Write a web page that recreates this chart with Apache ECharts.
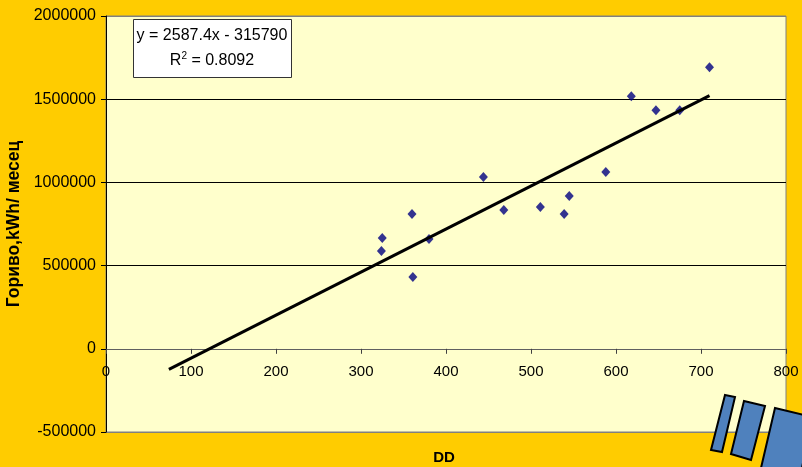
<!DOCTYPE html>
<html>
<head>
<meta charset="utf-8">
<script src="https://cdn.jsdelivr.net/npm/echarts@6/dist/echarts.min.js"></script>
<style>
html,body{margin:0;padding:0;background:#FFCC00;}
#chart{width:802px;height:467px;}
</style>
</head>
<body>
<div id="chart"></div>
<script>
// Data
const ddValues = [325, 324, 360, 361, 380, 444, 468, 511, 539, 545, 588, 618, 647, 675, 710];
const fuelValues = [666000, 588000, 810000, 432000, 660000, 1032000, 834000, 852000, 810000, 918000, 1062000, 1518000, 1434000, 1434000, 1692000];
const trendX = [74, 710];
const trendY = [-124000, 1521000];
const equationText = 'y = 2587.4x - 315790';
const r2Text = '0.8092';
const xTicks = [0, 100, 200, 300, 400, 500, 600, 700, 800];
const yTicks = [-500000, 0, 500000, 1000000, 1500000, 2000000];
const xTitle = 'DD';
const yTitle = 'Гориво,kWh/ месец';

const scatterData = ddValues.map((x, i) => [x, fuelValues[i]]);
const trendData = trendX.map((x, i) => [x, trendY[i]]);

const chart = echarts.init(document.getElementById('chart'), null, {renderer: 'canvas'});
const FONT = '"Liberation Sans", Arial, sans-serif';

const gridTop = 16, gridBottom = 35, H = 467;
const plotH = H - gridTop - gridBottom;
const yMin = yTicks[0], yMax = yTicks[yTicks.length - 1];
const zeroOffset = plotH * (0 - yMin) / (yMax - yMin);

chart.setOption({
  backgroundColor: '#FFCC00',
  animation: false,
  grid: {
    left: 106, top: gridTop, right: 16, bottom: gridBottom,
    containLabel: false, outerBoundsMode: 'none',
    show: true, backgroundColor: '#FFFFCC', borderColor: '#808080', borderWidth: 1
  },
  xAxis: {
    type: 'value',
    position: 'bottom',
    offset: -zeroOffset,
    min: xTicks[0], max: xTicks[xTicks.length - 1], interval: 100,
    axisLine: {onZero: false, lineStyle: {color: '#606060', width: 1}},
    axisTick: {show: true, length: 5, lineStyle: {color: '#404040'}},
    axisLabel: {color: '#000', fontFamily: FONT, fontSize: 15, margin: 16, formatter: v => String(v)},
    splitLine: {show: false}
  },
  yAxis: {
    type: 'value',
    min: yMin, max: yMax, interval: 500000,
    name: yTitle, nameLocation: 'middle', nameGap: 83,
    nameTextStyle: {color: '#000', fontFamily: FONT, fontSize: 17.5, fontWeight: 'bold'},
    axisLine: {show: true, onZero: false, lineStyle: {color: '#000', width: 1}},
    axisTick: {show: true, length: 5, lineStyle: {color: '#000'}},
    axisLabel: {color: '#000', fontFamily: FONT, fontSize: 16, margin: 10, formatter: v => String(v)},
    splitLine: {show: true, lineStyle: {color: ['#808080', '#808080', '#000', '#000', '#000', '#808080'], width: 1}}
  },
  series: [
    {
      type: 'scatter',
      data: scatterData,
      symbol: 'diamond',
      symbolSize: [9, 10],
      itemStyle: {color: '#000080'},
      z: 2
    },
    {
      type: 'line',
      data: trendData,
      showSymbol: false,
      symbol: 'none',
      lineStyle: {color: '#000', width: 3},
      z: 3
    }
  ],
  graphic: [
    {
      type: 'rect', left: 133, top: 19,
      shape: {width: 158, height: 58},
      style: {fill: '#fff', stroke: '#333', lineWidth: 1},
      z: 10
    },
    {
      type: 'text', x: 212, y: 36,
      style: {text: equationText, fill: '#000', font: '16px ' + FONT, align: 'center', verticalAlign: 'middle'},
      z: 11
    },
    {
      type: 'text', x: 212, y: 61,
      style: {
        text: 'R{sup|2} = ' + r2Text,
        fill: '#000', font: '16px ' + FONT, align: 'center', verticalAlign: 'middle',
        rich: {sup: {fontSize: 10, fontFamily: FONT, verticalAlign: 'top', padding: [0, 0, 10, 0], fill: '#000'}}
      },
      z: 11
    },
    {
      type: 'text', x: 444, y: 458,
      style: {text: xTitle, fill: '#000', font: 'bold 15px ' + FONT, align: 'center', verticalAlign: 'middle'},
      z: 11
    },
    {
      type: 'polygon',
      shape: {points: [[725, 395], [735, 397], [722, 452], [711, 450]]},
      style: {fill: '#4F81BD', stroke: '#000', lineWidth: 2},
      z: 12
    },
    {
      type: 'polygon',
      shape: {points: [[744, 401], [765, 406], [751, 460], [731, 454]]},
      style: {fill: '#4F81BD', stroke: '#000', lineWidth: 2},
      z: 12
    },
    {
      type: 'polygon',
      shape: {points: [[775, 408], [812, 417], [800, 478], [761, 468]]},
      style: {fill: '#4F81BD', stroke: '#000', lineWidth: 2},
      z: 12
    }
  ]
});
</script>
</body>
</html>
